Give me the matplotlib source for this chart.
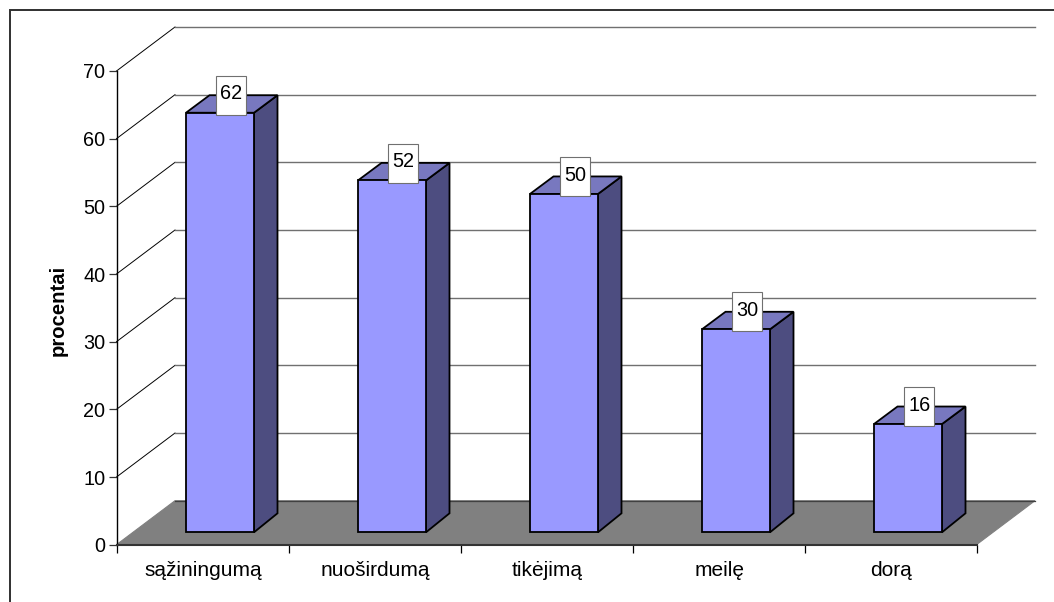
import matplotlib
matplotlib.use("Agg")
import matplotlib.pyplot as plt
from matplotlib.lines import Line2D
from matplotlib.patches import Polygon, Rectangle

categories = ["sąžiningumą", "nuoširdumą", "tikėjimą", "meilę", "dorą"]
values = [62, 52, 50, 30, 16]
y_ticks = [0, 10, 20, 30, 40, 50, 60, 70]
y_label = "procentai"

W, H = 1054, 602
plt.rcParams['font.family'] = ['Liberation Sans', 'DejaVu Sans']
fig = plt.figure(figsize=(W / 100, H / 100), dpi=100, facecolor='white')

# outer frame: only the left and top edges fall inside the picture
fig.add_artist(Line2D([9.5 / W, 9.5 / W, 1], [0, 1 - 10 / H, 1 - 10 / H],
                      color='#303030', linewidth=1.4, solid_joinstyle='miter',
                      transform=fig.transFigure))

L, R, T, B = 116.5, 976.5, 71.0, 544.7
ax = fig.add_axes([L / W, 1 - B / H, (R - L) / W, (B - T) / H])
ax.set_xlim(0, len(categories))
ax.set_ylim(0, 70)
ax.patch.set_visible(False)
for s in ('top', 'right'):
    ax.spines[s].set_visible(False)
ax.spines['left'].set_linewidth(1.0)
ax.spines['bottom'].set_linewidth(1.5)
ax.spines['bottom'].set_color('#333333')

px = (R - L) / len(categories)   # pixels per category
py = (B - T) / 70                # pixels per unit
dx = 58.5 / px                   # wall depth, data units
dy = 44.0 / py
bar_dx = 23.5 / px               # bar depth
bar_dy_low = 19.0 / py
bar_dy_top = 17.5 / py
bar_left = (186 - L) / px
bar_w = 68 / px
base_dy = 12.4 / py
box_w = 30 / px
box_h = 39 / py


def poly(pts, **kw):
    ax.add_patch(Polygon(pts, closed=True, clip_on=False, **kw))


# floor
poly([(0, 0), (5, 0), (5 + dx, dy), (dx, dy)], facecolor='#808080',
     edgecolor='#808080', linewidth=0.8, zorder=1)
ax.plot([dx, 5 + dx], [dy, dy], color='#404040', lw=0.9, clip_on=False, zorder=1.2)

# grid
for t in y_ticks[1:]:
    ax.plot([0, dx], [t, t + dy], color='#000000', lw=0.7, clip_on=False, zorder=1.1)
    ax.plot([dx, 5 + dx], [t + dy, t + dy], color='#707070', lw=1.0,
            clip_on=False, zorder=1.1)

# bars
for i, v in enumerate(values):
    x0 = i + bar_left
    x1 = x0 + bar_w
    y0 = base_dy
    y1 = base_dy + v
    ek = dict(edgecolor='black', linewidth=1.3, joinstyle='miter')
    poly([(x1, y0), (x1 + bar_dx, y0 + bar_dy_low), (x1 + bar_dx, y1 + bar_dy_top), (x1, y1)],
         facecolor='#4D4D80', zorder=2, **ek)
    poly([(x0, y1), (x1, y1), (x1 + bar_dx, y1 + bar_dy_top), (x0 + bar_dx, y1 + bar_dy_top)],
         facecolor='#7878BF', zorder=2, **ek)
    poly([(x0, y0), (x1, y0), (x1, y1), (x0, y1)], facecolor='#9999FF', zorder=3, **ek)
    cx = x0 + 45.3 / px
    cy = y1 + 17.3 / py
    ax.add_patch(Rectangle((cx - box_w / 2, cy - box_h / 2), box_w, box_h,
                           facecolor='white', edgecolor='#707070', linewidth=0.8,
                           clip_on=False, zorder=5))
    ax.text(cx, cy + 1.5 / py, str(v), ha='center', va='center', fontsize=14.3,
            zorder=6, color='black')

ax.set_xticks(range(len(categories) + 1))
ax.set_xticklabels([])
ax.set_yticks(y_ticks)
ax.set_yticklabels([str(t) for t in y_ticks], fontsize=14.3)
ax.tick_params(axis='y', length=6, width=0.9, color='#333333', pad=2)
ax.tick_params(axis='x', length=5.5, width=0.9, direction='out')
for i, c in enumerate(categories):
    ax.annotate(c, xy=(i + 0.5, 0), xycoords='data', xytext=(0.7, -31.3),
                textcoords='offset pixels', ha='center', va='baseline', fontsize=15,
                annotation_clip=False)

fig.text(58 / W, 1 - 310.5 / H, y_label, rotation=90, ha='center', va='center',
         fontsize=14.6, fontweight='bold')

fig.savefig('out.png', dpi=100)
